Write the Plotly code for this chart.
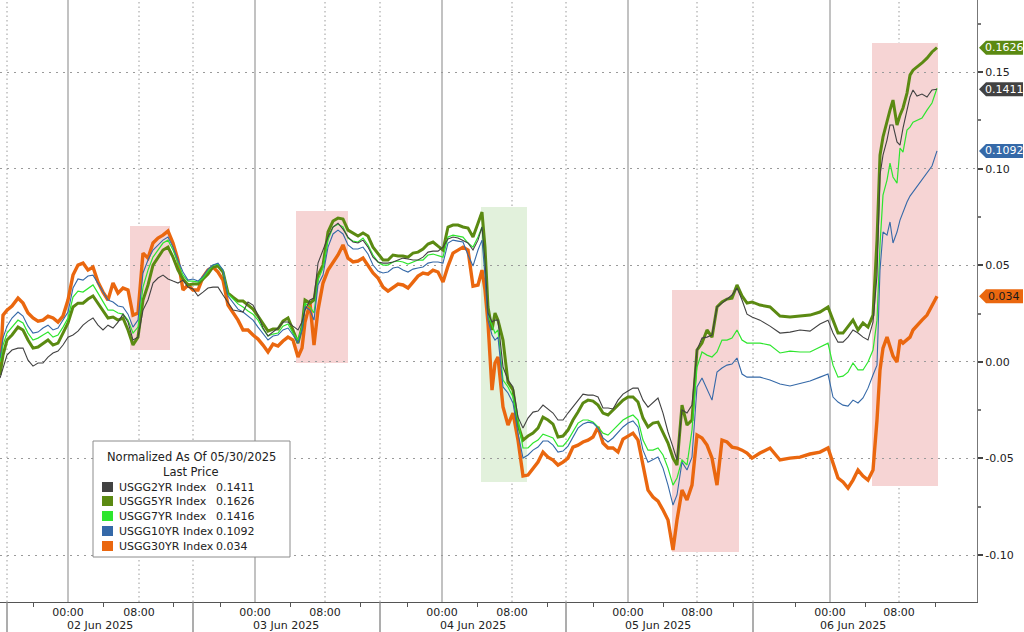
import plotly.graph_objects as go

# ---------------- DATA ----------------
# Compressed Bloomberg intraday session index (~8.75 units per hour, gaps removed)
t_idx = [0, 3, 7, 12, 18, 23, 28, 33, 38, 43, 48, 53, 58, 63, 68, 73, 78, 83, 88, 93, 98, 103, 108, 113, 118, 123, 128, 133, 138, 143,
         148, 153, 158, 163, 168, 173, 178, 183, 188, 193, 198, 203, 208, 213, 218, 223, 228, 233, 238, 243,
         248, 253, 258, 263, 268, 273, 278, 283, 288, 293, 298, 302, 305, 310, 314, 318, 323, 328, 333, 338,
         343, 348, 353, 358, 363, 368, 373, 378, 383, 388, 393, 398, 403, 408, 413, 418, 423, 428, 433, 438,
         443, 448, 453, 458, 463, 468, 473, 478, 482, 485, 488, 492, 495, 498, 503, 508, 513, 518, 523, 528,
         533, 538, 543, 548, 553, 558, 563, 568, 573, 578, 583, 588, 593, 598, 603, 608, 613, 618, 623, 628,
         633, 638, 643, 648, 653, 658, 663, 668, 673, 677, 682, 687, 692, 697, 702, 707, 712, 717, 722, 727,
         732, 737, 742, 747, 752, 760, 770, 780, 790, 800, 810, 820, 828, 833, 838, 843, 848, 853, 858, 863,
         868, 873, 877, 880, 883, 887, 890, 893, 897, 900, 903, 907, 910, 913, 917, 922, 927, 932, 937]

# Yield change since 05/30/2025, in basis points
usgg2yr_bp = [-0.84, -0.27, 0.35, 0.61, 0.71, 0.71, 0.09, -0.22, -0.06, -0.06, 0.25, 0.46, 0.56, 0.87, 1.28, 1.39, 1.59, 1.90, 2.11, 2.27, 1.90, 1.65, 1.90, 1.75, 2.06, 2.47, 2.06, 1.13, 1.28, 2.68,
              3.20, 4.08, 4.34, 4.49, 4.29, 4.18, 4.08, 4.23, 3.87, 3.77, 3.41, 3.61, 3.82, 3.87, 3.87, 3.46, 3.10, 2.68, 2.63, 2.58,
              3.10, 2.94, 2.42, 1.75, 1.34, 1.54, 1.75, 2.06, 2.06, 1.85, 1.65, 2.06, 2.68, 3.20, 3.30, 5.11, 5.79, 6.46, 6.98, 7.18,
              6.87, 6.46, 6.20, 6.15, 6.30, 5.94, 5.42, 5.17, 5.11, 5.11, 5.17, 5.27, 5.37, 5.32, 5.27, 5.27, 5.42, 5.68, 5.73, 5.73,
              5.94, 6.36, 6.46, 6.41, 6.30, 6.15, 5.79, 6.30, 6.98, 5.27, 2.53, 2.06, 2.16, 2.16, -0.27, -0.94, -1.30, -2.86, -3.43, -2.91,
              -2.60, -2.55, -2.24, -2.44, -2.65, -3.01, -3.01, -2.65, -2.34, -1.98, -1.67, -1.72, -1.72, -1.82, -2.39, -2.39, -2.44, -1.98, -1.67, -1.51,
              -1.36, -1.36, -1.98, -2.34, -2.08, -1.87, -2.65, -3.63, -4.41, -5.08, -2.49, -2.65, -2.24, 0.61, 1.23, 1.28, 1.39, 2.84, 3.04, 3.25,
              3.46, 3.82, 3.20, 2.47, 2.32, 2.16, 1.85, 1.49, 1.54, 1.65, 1.59, 1.96, 2.16, 1.49, 1.02, 1.02, 1.28, 1.65, 1.49, 1.28,
              1.13, 2.06, 4.49, 9.67, 10.70, 11.48, 12.26, 12.26, 11.38, 11.22, 12.10, 13.03, 13.71, 14.07, 13.76, 13.86, 13.71, 14.07, 14.11]

usgg5yr_bp = [-0.68, 0.35, 1.13, 1.39, 1.80, 1.65, 1.13, 0.71, 0.77, 0.97, 1.13, 0.87, 0.97, 1.49, 2.01, 2.84, 3.04, 3.04, 3.25, 3.41, 3.04, 2.63, 2.27, 2.32, 2.16, 2.27, 1.65, 0.87, 1.28, 3.20,
              3.98, 5.01, 5.37, 5.79, 5.94, 5.42, 4.75, 4.29, 3.98, 4.03, 4.03, 4.29, 4.54, 4.91, 4.96, 4.65, 3.56, 3.35, 3.15, 3.15,
              2.94, 2.73, 2.37, 1.96, 1.59, 1.70, 1.70, 2.11, 2.27, 1.65, 0.97, 1.80, 3.20, 3.04, 3.20, 4.49, 5.01, 6.72, 7.29, 7.44,
              7.39, 6.82, 6.67, 6.51, 6.67, 6.51, 5.94, 5.58, 5.27, 5.27, 5.53, 5.48, 5.48, 5.42, 5.63, 5.68, 5.84, 6.10, 6.20, 5.99,
              5.79, 6.98, 7.08, 7.08, 6.98, 6.93, 6.46, 7.18, 7.75, 5.94, 2.84, 1.65, 2.53, 2.16, 1.13, -1.05, -1.46, -3.27, -4.05, -3.84,
              -3.69, -3.43, -2.86, -3.01, -3.22, -3.89, -3.84, -3.53, -3.01, -2.60, -2.13, -1.98, -2.03, -2.24, -2.65, -2.75, -2.49, -2.24, -1.98, -1.82,
              -1.82, -2.08, -2.91, -3.37, -3.17, -3.12, -3.63, -4.20, -4.98, -5.34, -2.24, -3.27, -3.01, 0.61, 0.97, 1.65, 1.28, 2.84, 3.10, 3.25,
              3.30, 3.98, 3.41, 3.04, 3.10, 2.94, 2.84, 2.37, 2.32, 2.37, 2.42, 2.58, 2.84, 2.16, 1.49, 1.49, 1.80, 2.16, 1.65, 2.01,
              1.80, 2.42, 6.30, 10.70, 11.64, 12.52, 13.03, 13.55, 12.26, 12.77, 13.14, 13.91, 14.84, 15.10, 15.26, 15.47, 15.72, 16.04, 16.26]

usgg7yr_bp = [-0.01, 0.87, 1.49, 1.80, 2.16, 2.01, 1.49, 1.13, 1.23, 1.39, 1.54, 1.28, 1.39, 1.80, 2.27, 3.35, 3.66, 3.61, 3.82, 3.98, 3.56, 3.10, 2.68, 2.68, 2.53, 2.47, 2.16, 1.49, 1.80, 3.87,
              4.75, 5.42, 5.79, 6.15, 6.30, 5.79, 5.11, 4.49, 4.18, 4.18, 4.13, 4.34, 4.70, 5.01, 5.06, 4.75, 3.51, 3.25, 3.00, 2.84,
              2.63, 2.47, 2.16, 1.70, 1.34, 1.44, 1.49, 1.85, 1.96, 1.49, 1.13, 1.80, 3.04, 2.84, 2.53, 4.23, 4.86, 6.30, 6.98, 7.13,
              6.98, 6.41, 6.25, 6.20, 6.41, 6.05, 5.53, 5.17, 5.01, 5.01, 5.17, 5.22, 5.17, 5.06, 5.17, 5.27, 5.27, 5.53, 5.58, 5.48,
              5.42, 6.46, 6.56, 6.51, 6.46, 6.15, 5.94, 6.46, 6.98, 5.01, 2.42, 1.90, 1.49, 1.65, -0.94, -1.30, -1.82, -3.01, -4.46, -4.46,
              -4.20, -4.05, -3.74, -3.84, -3.94, -4.36, -4.36, -4.05, -3.63, -3.17, -3.01, -3.01, -3.12, -3.37, -3.69, -3.79, -3.53, -3.27, -3.01, -2.86,
              -2.75, -3.01, -4.05, -4.57, -4.57, -4.46, -4.82, -5.50, -6.38, -6.01, -5.08, -5.34, -3.53, -0.27, 0.51, 0.35, 0.25, 0.51, 1.13, 1.13,
              1.23, 1.65, 1.13, 0.97, 0.97, 0.97, 0.87, 0.46, 0.56, 0.51, 0.51, 0.77, 0.97, -0.17, -0.79, -0.74, -0.53, -0.06, -0.42, -0.42,
              -0.01, 0.61, 2.16, 6.05, 8.63, 9.41, 10.29, 9.57, 9.25, 11.07, 10.86, 12.00, 12.15, 12.41, 12.52, 12.62, 13.03, 13.40, 14.16]

usgg10yr_bp = [0.20, 1.23, 1.85, 2.27, 2.58, 2.37, 1.85, 1.49, 1.54, 1.75, 1.90, 1.65, 1.75, 2.16, 2.58, 3.82, 4.29, 4.23, 4.44, 4.49, 4.08, 3.61, 3.20, 3.10, 2.89, 2.84, 2.47, 1.80, 2.16, 4.60,
               5.27, 5.79, 6.05, 6.30, 6.46, 5.94, 5.27, 4.65, 4.23, 4.29, 4.18, 4.44, 4.80, 5.01, 5.11, 4.75, 3.41, 3.10, 2.73, 2.58,
               2.37, 2.16, 1.80, 1.44, 1.13, 1.34, 1.39, 1.65, 1.75, 1.39, 0.97, 1.65, 2.84, 2.68, 2.16, 3.98, 4.49, 5.94, 6.62, 6.82,
               6.62, 6.05, 5.84, 5.84, 5.94, 5.58, 5.01, 4.70, 4.60, 4.65, 4.86, 4.91, 4.75, 4.65, 4.80, 4.86, 4.91, 5.11, 5.17, 5.17,
               5.11, 6.15, 6.30, 6.25, 6.20, 5.53, 4.96, 5.79, 6.30, 4.49, 2.16, 1.39, 1.13, 1.28, -1.30, -1.61, -2.13, -3.69, -4.98, -4.82,
               -4.57, -4.41, -4.10, -4.10, -4.31, -4.67, -4.62, -4.36, -3.89, -3.43, -3.22, -3.12, -3.17, -3.43, -3.94, -4.15, -3.94, -3.63, -3.37, -3.17,
               -3.06, -3.37, -4.57, -5.19, -5.08, -4.93, -5.50, -6.38, -7.41, -6.89, -5.19, -5.60, -4.93, -1.30, -0.84, -1.46, -1.98, -0.53, -0.32, -0.17,
               -0.11, 0.20, -0.63, -0.79, -0.79, -0.79, -0.94, -1.15, -1.25, -1.10, -0.99, -0.79, -0.63, -1.82, -2.08, -2.24, -2.29, -1.98, -2.13, -1.87,
               -1.36, -0.68, -0.17, 4.75, 6.72, 6.56, 7.24, 6.15, 6.72, 7.34, 7.75, 8.27, 8.58, 8.79, 9.10, 9.41, 9.78, 10.14, 10.92]

usgg30yr_bp = [-0.42, 2.42, 2.68, 2.89, 3.30, 3.04, 2.53, 2.27, 2.11, 2.16, 2.37, 2.27, 2.06, 2.37, 3.20, 4.49, 5.01, 5.11, 4.75, 4.91, 4.13, 3.61, 3.20, 4.08, 3.56, 3.82, 3.72, 2.42, 2.53, 5.63,
               5.37, 6.15, 6.41, 6.56, 6.77, 6.15, 5.27, 3.72, 3.98, 3.72, 3.72, 4.39, 4.75, 4.91, 4.65, 4.23, 2.94, 2.53, 2.16, 1.65,
               1.65, 1.39, 1.18, 0.87, 0.51, 0.92, 0.82, 1.08, 1.28, 1.13, 0.25, 0.71, 2.06, 3.04, 0.87, 2.68, 4.08, 4.75, 5.11, 5.53,
               6.05, 5.37, 5.17, 5.22, 5.37, 5.01, 4.60, 4.34, 3.87, 3.66, 3.87, 4.03, 3.98, 3.82, 4.13, 4.44, 4.60, 4.54, 4.75, 4.65,
               4.13, 4.96, 5.63, 5.79, 5.94, 5.79, 3.92, 3.98, 4.75, 3.72, 2.01, -1.46, -0.06, 0.25, -2.34, -3.27, -2.65, -4.05, -5.91, -5.86,
               -5.50, -5.19, -4.67, -4.93, -5.08, -5.34, -5.19, -4.98, -4.41, -4.31, -4.15, -4.05, -3.89, -3.37, -4.20, -4.46, -4.46, -4.67, -4.00, -3.84,
               -3.69, -4.05, -5.45, -6.64, -7.00, -7.21, -7.67, -8.19, -9.74, -8.19, -6.64, -7.15, -6.38, -3.79, -3.94, -4.31, -4.98, -6.38, -4.05, -4.15,
               -4.41, -4.46, -4.57, -4.72, -4.98, -4.72, -4.46, -5.08, -4.98, -4.93, -4.77, -4.67, -4.46, -5.19, -6.01, -6.22, -6.53, -6.12, -5.60, -5.91,
               -6.12, -5.60, -3.01, -0.42, 0.71, 1.28, 0.71, 0.30, -0.01, 1.13, 0.97, 1.13, 1.28, 1.65, 1.90, 2.16, 2.42, 2.94, 3.40]

series_names = ["USGG2YR Index", "USGG5YR Index", "USGG7YR Index", "USGG10YR Index", "USGG30YR Index"]
last_price = [0.1411, 0.1626, 0.1416, 0.1092, 0.034]

# x-axis labels
time_tick_pos = [68, 139, 255, 325, 442, 512, 628, 697, 830, 899]
time_tick_text = ["00:00", "08:00", "00:00", "08:00", "00:00", "08:00", "00:00", "08:00", "00:00", "08:00"]
minor_tick_pos = [33, 103, 173, 220, 290, 360, 407, 477, 547, 593, 663, 733, 795, 865, 935]
day_sep_pos = [7, 193, 380, 566, 753]
day_labels = ["02 Jun 2025", "03 Jun 2025", "04 Jun 2025", "05 Jun 2025", "06 Jun 2025"]
day_label_pos = [100, 286, 473, 658, 853]

y_tick_vals = [-0.10, -0.05, 0.00, 0.05, 0.10, 0.15]
y_tick_text = ["-0.10", "-0.05", "0.00", "0.05", "0.10", "0.15"]
y_minor_vals = [-0.075, -0.025, 0.025, 0.075, 0.125, 0.175]

# highlighted windows: (start, end, low, high, kind)
windows = [
    (130, 170, 0.0061, 0.0703, "up"),
    (296, 348, -0.0006, 0.0781, "up"),
    (481, 527, -0.0622, 0.0801, "down"),
    (672, 739, -0.0984, 0.0372, "up"),
    (872, 938, -0.0643, 0.1650, "up"),
]

# ---------------- STYLE ----------------
FONT = "DejaVu Sans"
col = {
    "USGG2YR Index": "#424242",
    "USGG5YR Index": "#5b8a12",
    "USGG7YR Index": "#2ee62e",
    "USGG10YR Index": "#3569a8",
    "USGG30YR Index": "#ea670f",
}
width = {"USGG2YR Index": 1.1, "USGG5YR Index": 3.0, "USGG7YR Index": 1.2,
         "USGG10YR Index": 1.1, "USGG30YR Index": 3.4}
bp_data = dict(zip(series_names, [usgg2yr_bp, usgg5yr_bp, usgg7yr_bp, usgg10yr_bp, usgg30yr_bp]))
for s in series_names:
    assert len(bp_data[s]) == len(t_idx), (s, len(bp_data[s]), len(t_idx))

PLOT_W, PLOT_H = 977, 602


def px_x(px):
    return px / PLOT_W


def px_y(py):
    return (PLOT_H - py) / PLOT_H


fig = go.Figure()
for s in ["USGG30YR Index", "USGG5YR Index", "USGG7YR Index", "USGG10YR Index", "USGG2YR Index"]:
    fig.add_trace(go.Scatter(
        x=t_idx, y=[v / 100 for v in bp_data[s]], mode="lines", name=s,
        line=dict(color=col[s], width=width[s]), hoverinfo="skip", showlegend=False))

shapes = []
for x0, x1, lo, hi, kind in windows:
    shapes.append(dict(type="rect", xref="x", yref="y", x0=x0, x1=x1, y0=lo, y1=hi,
                       fillcolor="#f6d4d4" if kind == "up" else "#e2f1dc",
                       line=dict(width=0), layer="below"))
# vertical grid: solid at midnight, dotted at 08:00 and session boundaries
for p in time_tick_pos[0::2]:
    shapes.append(dict(type="line", xref="x", yref="paper", x0=p, x1=p, y0=0, y1=1,
                       line=dict(color="#a8a8a8", width=1.4), layer="below"))
for p in time_tick_pos[1::2] + day_sep_pos:
    shapes.append(dict(type="line", xref="x", yref="paper", x0=p, x1=p, y0=0, y1=1,
                       line=dict(color="#9a9a9a", width=1, dash="1.5px,3px"), layer="below"))
for p in day_sep_pos:
    shapes.append(dict(type="line", xref="x", yref="paper", x0=p, x1=p, y0=px_y(632), y1=0,
                       line=dict(color="#8a8a8a", width=1.4), layer="above"))

annotations = []
for p, lab in zip(day_label_pos, day_labels):
    annotations.append(dict(x=p, xref="x", y=px_y(625), yref="paper", text=lab, showarrow=False,
                            font=dict(family=FONT, size=11, color="#222"), xanchor="center", yanchor="middle"))

# legend box
shapes.append(dict(type="rect", xref="paper", yref="paper", x0=px_x(93), x1=px_x(290),
                   y0=px_y(557), y1=px_y(441), fillcolor="white",
                   line=dict(color="#8c8c8c", width=1), layer="above"))
annotations.append(dict(x=px_x(191), y=px_y(457), xref="paper", yref="paper", text="Normalized As Of 05/30/2025",
                        showarrow=False, font=dict(family=FONT, size=11.5, color="#222"), xanchor="center", yanchor="middle"))
annotations.append(dict(x=px_x(191), y=px_y(472), xref="paper", yref="paper", text="Last Price",
                        showarrow=False, font=dict(family=FONT, size=11.5, color="#222"), xanchor="center", yanchor="middle"))
row_y = [487, 501, 516, 531, 546]
for s, v, ry in zip(series_names, last_price, row_y):
    shapes.append(dict(type="rect", xref="paper", yref="paper", x0=px_x(102), x1=px_x(113),
                       y0=px_y(ry + 5), y1=px_y(ry - 5), fillcolor=col[s], line=dict(width=0), layer="above"))
    annotations.append(dict(x=px_x(117), y=px_y(ry), xref="paper", yref="paper", text=s, showarrow=False,
                            font=dict(family=FONT, size=11, color="#222"), xanchor="left", yanchor="middle"))
    annotations.append(dict(x=px_x(214), y=px_y(ry), xref="paper", yref="paper", text=f"{v:g}", showarrow=False,
                            font=dict(family=FONT, size=11, color="#222"), xanchor="left", yanchor="middle"))

# right-hand last-price tags
tag_text_col = {"USGG2YR Index": "white", "USGG5YR Index": "white",
                "USGG10YR Index": "white", "USGG30YR Index": "#1a1a1a"}
half = 7 / 1932
for s, v in zip(series_names, last_price):
    if s == "USGG7YR Index":
        continue
    xt, xb, xr = px_x(979), px_x(986), px_x(1023)
    path = (f"M {xt} {v} L {xb} {v + half} L {xr} {v + half} L {xr} {v - half} "
            f"L {xb} {v - half} Z")
    shapes.append(dict(type="path", xref="paper", yref="y", path=path, fillcolor=col[s],
                       line=dict(width=0), layer="above"))
    annotations.append(dict(x=px_x(1004), y=v, xref="paper", yref="y", text=f"{v:g}", showarrow=False,
                            font=dict(family=FONT, size=11, color=tag_text_col[s]),
                            xanchor="center", yanchor="middle"))

fig.update_layout(
    width=1024, height=632, autosize=False,
    margin=dict(l=0, r=47, t=0, b=30),
    paper_bgcolor="white", plot_bgcolor="white",
    showlegend=False,
    shapes=shapes, annotations=annotations,
    xaxis=dict(range=[0, 977], tickmode="array", tickvals=time_tick_pos, ticktext=time_tick_text,
               ticks="", showgrid=False, zeroline=False, showline=True, linecolor="#555", linewidth=1,
               tickfont=dict(family=FONT, size=11, color="#222"),
               minor=dict(tickmode="array", tickvals=minor_tick_pos, ticks="outside", ticklen=4,
                          tickcolor="#555", showgrid=False)),
    yaxis=dict(side="right", range=[-0.1243, 0.1873], tickmode="array", tickvals=y_tick_vals,
               ticktext=y_tick_text, ticks="outside", ticklen=5, tickwidth=2, tickcolor="#444",
               showline=True, linecolor="#777", linewidth=1, zeroline=False,
               showgrid=True, gridcolor="#9a9a9a", griddash="2px,5px", gridwidth=1,
               tickfont=dict(family=FONT, size=11, color="#222"),
               minor=dict(tickmode="array", tickvals=y_minor_vals, ticks="outside", ticklen=3,
                          tickcolor="#777", showgrid=False)),
)

fig.write_html("out.html",
               config={"displayModeBar": False, "staticPlot": True},
               post_script="document.body.style.margin='0';document.body.style.overflow='hidden';")
